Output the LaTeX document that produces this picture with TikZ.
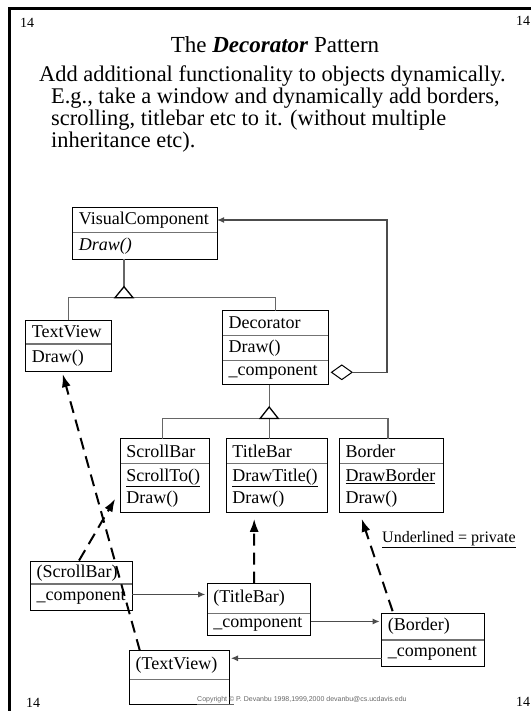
\documentclass[tikz,border=0pt]{standalone}
\usepackage{fontspec}
\setmainfont{Liberation Serif}
\newfontfamily\copyfont{Liberation Sans}
\usetikzlibrary{arrows.meta,calc,shapes.geometric,fit}

\begin{document}
\begin{tikzpicture}[x=1pt,y=-1pt,
  row/.style={inner xsep=6pt, inner ysep=0pt, anchor=north west, align=left,
    font=\fontsize{18}{22}\selectfont},
  outline/.style={draw=black, line width=0.9pt, inner sep=0pt},
  divider/.style={draw=black!55, line width=1.3pt},
  inh/.style={draw=black!60, line width=1.3pt},
  tri/.style={draw=black, line width=1.3pt, fill=white, line join=miter},
  assoc/.style={draw=black!70, line width=1pt, shorten >=2pt,
    -{Latex[length=7pt,width=6pt]}},
  dep/.style={draw=black, line width=2pt, dash pattern=on 12pt off 7pt,
    -{Latex[length=13pt,width=9pt]}},
  pagenum/.style={anchor=base west, inner sep=0pt, font=\fontsize{14}{14}\selectfont},
  bodyline/.style={anchor=base west, inner sep=0pt, font=\fontsize{22.4}{22}\selectfont},
]
\useasboundingbox (0,0) rectangle (531,711);

% slide frame
\draw[line width=3pt] (9,711) -- (9,9) -- (531,9);

% page numbers
\node[pagenum] (pn1) at (20,28) {14};
\node[pagenum] (pn2) at (516,26) {14};
\node[pagenum] (pn3) at (26,707) {14};
\node[pagenum] (pn4) at (516,706) {14};

% heading and text
\node[anchor=base, inner sep=0pt, font=\fontsize{23}{23}\selectfont] (title) at (275,53)
  {The \textbf{\textit{Decorator}} Pattern};
\node[bodyline] (l1) at (39,82) {Add additional functionality to objects dynamically.};
\node[bodyline] (l2) at (51,104) {E.g., take a window and dynamically add borders,};
\node[bodyline] (l3) at (51,126) {scrolling, titlebar etc to it. (without multiple};
\node[bodyline] (l4) at (51,148) {inheritance etc).};

% ---------- class boxes ----------
% VisualComponent
\node[row, text width=132pt, minimum height=25pt] (vc1) at (72.7,207.3) {VisualComponent};
\node[row, text width=132pt, minimum height=26pt] (vc2) at (vc1.south west) {\textit{Draw()}};
\draw[divider] (vc1.south west) -- (vc1.south east);
\node[outline, fit=(vc1)(vc2)] (vc) {};

% TextView
\node[row, text width=73.7pt, minimum height=23.5pt] (tv1) at (25.7,320) {TextView};
\node[row, text width=73.7pt, minimum height=27.5pt] (tv2) at (tv1.south west) {Draw()};
\draw[divider] (tv1.south west) -- (tv1.south east);
\node[outline, fit=(tv1)(tv2)] (tv) {};

% Decorator
\node[row, text width=94pt, minimum height=24.5pt] (dec1) at (222.5,310.5) {Decorator};
\node[row, text width=94pt, minimum height=24.5pt] (dec2) at (dec1.south west) {Draw()};
\node[row, text width=94pt, minimum height=24pt] (dec3) at (dec2.south west) {\_component};
\draw[divider] (dec1.south west) -- (dec1.south east);
\draw[divider] (dec2.south west) -- (dec2.south east);
\node[outline, fit=(dec1)(dec3)] (dec) {};

% ScrollBar
\node[row, text width=76.8pt, minimum height=24.4pt] (sb1) at (120.2,438.6) {ScrollBar};
\node[row, text width=76.8pt, minimum height=48.4pt] (sb2) at (sb1.south west)
  {\underline{ScrollTo()}\\Draw()};
\draw[divider] (sb1.south west) -- (sb1.south east);
\node[outline, fit=(sb1)(sb2)] (sb) {};

% TitleBar
\node[row, text width=88.6pt, minimum height=24.4pt] (tb1) at (226.2,438.6) {TitleBar};
\node[row, text width=88.6pt, minimum height=48.4pt] (tb2) at (tb1.south west)
  {\underline{DrawTitle()}\\Draw()};
\draw[divider] (tb1.south west) -- (tb1.south east);
\node[outline, fit=(tb1)(tb2)] (tb) {};

% Border
\node[row, text width=91.7pt, minimum height=24.4pt] (bd1) at (339.3,438.6) {Border};
\node[row, text width=91.7pt, minimum height=48.4pt] (bd2) at (bd1.south west)
  {\underline{DrawBorder}\\Draw()};
\draw[divider] (bd1.south west) -- (bd1.south east);
\node[outline, fit=(bd1)(bd2)] (bd) {};

% ---------- object boxes ----------
\node[row, text width=89.5pt, minimum height=22.2pt] (sbi1) at (30.5,561.5) {(ScrollBar)};
\node[row, text width=89.5pt, minimum height=26.3pt] (sbi2) at (sbi1.south west) {\_component};
\draw[divider] (sbi1.south west) -- (sbi1.south east);
\node[outline, fit=(sbi1)(sbi2)] (sbi) {};

\node[row, text width=91.3pt, minimum height=29.5pt] (tbi1) at (207.2,583.7) {(TitleBar)};
\node[row, text width=91.3pt, minimum height=21.3pt] (tbi2) at (tbi1.south west) {\_component};
\draw[divider] (tbi1.south west) -- (tbi1.south east);
\node[outline, fit=(tbi1)(tbi2)] (tbi) {};

\node[row, text width=90.7pt, minimum height=26.4pt] (bi1) at (381.6,613.2) {(Border)};
\node[row, text width=90.7pt, minimum height=26.1pt] (bi2) at (bi1.south west) {\_component};
\draw[divider] (bi1.south west) -- (bi1.south east);
\node[outline, fit=(bi1)(bi2)] (bi) {};

\node[row, text width=87.2pt, minimum height=28.4pt] (tvi1) at (129.4,650.8) {(TextView)};
\node[row, text width=87.2pt, minimum height=24pt] (tvi2) at (tvi1.south west) {};
\draw[divider] (tvi1.south west) -- (tvi1.south east);
\node[outline, fit=(tvi1)(tvi2)] (tvi) {};

% ---------- generalisation: VisualComponent ----------
\coordinate (t1) at (124,286.7);
\coordinate (b1) at (124,297.7);
\draw[inh] (vc2.south -| t1) -- (t1);
\draw[inh] (tv1.north) -- (tv1.north |- b1) -- (dec1.north |- b1) -- (dec1.north);
\draw[tri] (t1) -- ++(-9,11) -- ++(18,0) -- cycle;

% ---------- generalisation: Decorator ----------
\coordinate (t2) at (269.2,407);
\coordinate (b2) at (269.2,418.4);
\coordinate (sbtop) at ($(sb1.north)+(-2,0)$);
\coordinate (bdtop) at ($(bd1.north)+(-3.5,0)$);
\draw[inh] (dec3.south -| t2) -- (t2);
\draw[inh] (sbtop) |- (bdtop |- b2) -- (bdtop);
\draw[inh] (b2) -- (t2 |- tb1.north);
\draw[tri] (t2) -- ++(-9,11.4) -- ++(18,0) -- cycle;

% ---------- aggregation Decorator -> VisualComponent ----------
\node[diamond, draw, line width=1pt, fill=white, minimum width=21pt,
      minimum height=15pt, inner sep=0pt] (agg) at (341.8,372.3) {};
\coordinate (aggc) at (387,372.3);
\draw[draw=black!70, line width=1.2pt, -{Latex[length=7pt,width=6pt]}]
  (agg.east) -- (aggc) |- (vc1.east);

% ---------- object references ----------
\coordinate (a1) at ($(sbi2.east)+(0,-3)$);
\coordinate (a2) at ($(tbi2.east)+(0,-3)$);
\coordinate (a3) at ($(bi2.west)+(0,5)$);
\draw[assoc] (a1) -- (a1 -| tbi1.west);
\draw[assoc] (a2) -- (a2 -| bi1.west);
\draw[assoc] (a3) -- (a3 -| tvi1.east);

% ---------- instance-of links ----------
\draw[dep] ($(sbi1.north)+(-2.4,-1)$) -- ($(sb2.west)+(-5,11)$);
\draw[dep] ($(tvi1.north west)+(10.5,0)$) -- ($(tv2.south)+(-6,2.3)$);
\draw[dep] ($(tbi1.north)+(-5,0)$) -- ($(tb2.south west)+(28,6.6)$);
\draw[dep] ($(bi1.north west)+(11,-2)$) -- ($(bd2.south west)+(22.4,6.6)$);

% ---------- note and footer ----------
\node[anchor=base west, inner sep=0pt, font=\fontsize{16}{16}\selectfont] (note) at (382,542)
  {\underline{Underlined = private}};
\node[anchor=base west, inner sep=0pt, text=black!60, font=\copyfont\fontsize{7}{7}\selectfont]
  (copy) at (197,701) {\underline{Copyright ©} P. Devanbu 1998,1999,2000 devanbu@cs.ucdavis.edu};
\end{tikzpicture}
\end{document}
